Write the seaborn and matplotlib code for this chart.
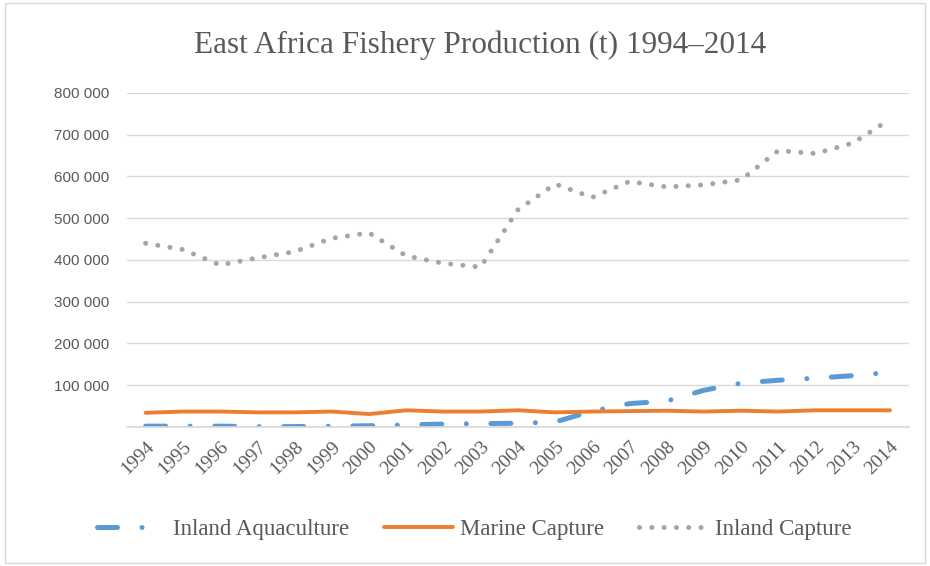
import pandas as pd
import seaborn as sns
import matplotlib.pyplot as plt
from matplotlib.ticker import FuncFormatter

# years and production values (tonnes)
years = list(range(1994, 2015))
inland_aquaculture = [2000, 2000, 2000, 1000, 1000, 2000, 3000, 5000, 7000, 8000, 9000,
                      12000, 38000, 56000, 62000, 88000, 105000, 112000, 117000, 123000, 131000]
marine_capture = [34000, 37000, 37000, 35000, 35000, 37000, 31000, 40000, 37000, 37000, 40000,
                  35000, 37000, 38000, 39000, 37000, 39000, 37000, 40000, 40000, 40000]
inland_capture = [440000, 425000, 388000, 405000, 420000, 452000, 465000, 410000, 392000, 383000,
                  520000, 582000, 550000, 588000, 575000, 580000, 592000, 662000, 655000, 680000, 737000]

series = ['Inland Aquaculture', 'Marine Capture', 'Inland Capture']
colors = {'Inland Aquaculture': '#5B9BD5', 'Marine Capture': '#ED7D31', 'Inland Capture': '#A5A5A5'}

df = pd.DataFrame({'Year': years * 3,
                   'Tonnes': inland_aquaculture + marine_capture + inland_capture,
                   'Series': [s for s in series for _ in years]})

sns.set_theme(style='white')
plt.rcParams['font.family'] = ['Liberation Serif', 'DejaVu Serif']

fig = plt.figure(figsize=(9.3, 5.66), dpi=100)
ax = fig.add_axes([0.1366, 0.2456, 0.977 - 0.1366, 0.8357 - 0.2456])

# draw each series separately so each can get its own width and dash pattern
styles = {
    'Inland Aquaculture': dict(lw=3.6, dashes=(4.0, 4.9, 0.01, 4.9)),
    'Marine Capture': dict(lw=2.8, dashes=None),
    'Inland Capture': dict(lw=3.6, dashes=(0.01, 2.45)),
}
handles = []
for s in series:
    sub = df[df['Series'] == s]
    sns.lineplot(data=sub, x='Year', y='Tonnes', color=colors[s], lw=styles[s]['lw'],
                 ax=ax, legend=False)
    line = ax.lines[-1]
    line.set_solid_capstyle('round')
    line.set_dash_capstyle('round')
    if styles[s]['dashes'] is not None:
        line.set_dashes(styles[s]['dashes'])
    handles.append(line)

ax.set_xlim(1993.5, 2014.5)
ax.set_ylim(0, 800000)
ax.set_xticks(years)
ax.set_xticklabels([str(y) for y in years], rotation=45, ha='right', rotation_mode='anchor',
                   fontsize=14)
ax.set_yticks(range(0, 800001, 100000))
ax.yaxis.set_major_formatter(FuncFormatter(lambda v, p: '' if v == 0 else f'{int(v):,}'.replace(',', ' ')))
for lab in ax.get_yticklabels():
    lab.set_family(['Liberation Sans', 'DejaVu Sans'])
    lab.set_fontsize(11)
ax.tick_params(axis='both', length=0, colors='#595959')
ax.tick_params(axis='x', pad=8)
ax.tick_params(axis='y', pad=13)
ax.grid(axis='y', color='#D9D9D9', lw=1)
ax.set_axisbelow(True)
for side in ['top', 'right', 'left']:
    ax.spines[side].set_visible(False)
ax.spines['bottom'].set_color('#D9D9D9')
ax.set_xlabel('')
ax.set_ylabel('')

fig.text(0.516, 1 - 53 / 566, 'East Africa Fishery Production (t) 1994\u20132014', ha='center',
         va='baseline', fontsize=22.5, color='#595959')

fig.legend(handles, series, loc='center', bbox_to_anchor=(0.51, 0.064), ncol=3, frameon=False,
           fontsize=16.5, labelcolor='#595959', handlelength=3.0, columnspacing=1.55,
           handletextpad=0.3)

# light border round the chart area
fig.patches.append(plt.Rectangle((0.005, 0.005), 0.99, 0.99, transform=fig.transFigure,
                                 fill=False, edgecolor='#D9D9D9', lw=1))

fig.savefig('out.png', dpi=100)
